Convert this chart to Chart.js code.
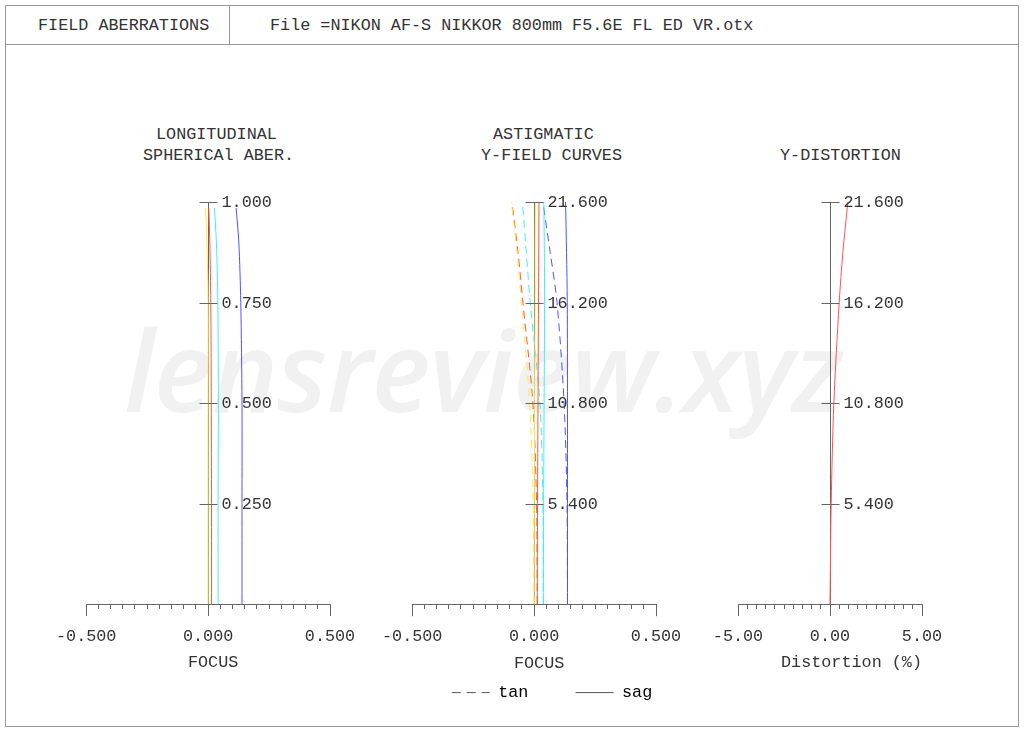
<!DOCTYPE html>
<html lang="en">
<head>
<meta charset="utf-8">
<title>Field aberrations</title>
<script src="https://cdn.jsdelivr.net/npm/chart.js@4"></script>
<style>
  body { margin: 0; background: #fff; width: 1024px; height: 731px; position: relative; overflow: hidden;
         font-family: 'Liberation Mono', 'Courier New', monospace; font-size: 16.8px; color: #333; }
  .marco { position: absolute; left: 5px; top: 5px; width: 1014px; height: 722px; border: 1px solid #999; box-sizing: border-box; }
  .cabecera { position: absolute; left: 5px; top: 5px; width: 1014px; height: 40px; border-bottom: 1px solid #999; box-sizing: border-box; }
  .divisor { position: absolute; left: 229px; top: 5px; width: 1px; height: 39px; background: #999; }
  .texto { position: absolute; white-space: pre; line-height: 20px; }
  .marca { position: absolute; left: 124px; top: 292px; font-family: 'Open Sans', sans-serif; font-style: italic; font-weight: 600;
           font-size: 112px; color: #f1f1f1; letter-spacing: -1px; white-space: nowrap; }
  canvas { position: absolute; }
</style>
</head>
<body>
<div class="marco"></div>
<div class="cabecera"></div>
<div class="divisor"></div>
<div class="texto" style="left:38px; top:16px">FIELD ABERRATIONS</div>
<div class="texto" style="left:270px; top:16px">File =NIKON AF-S NIKKOR 800mm F5.6E FL ED VR.otx</div>

<div class="marca">lensreview.xyz</div>

<div class="texto" style="left:156px; top:125px">LONGITUDINAL</div>
<div class="texto" style="left:143px; top:146px">SPHERICAl ABER.</div>
<div class="texto" style="left:493px; top:125px">ASTIGMATIC</div>
<div class="texto" style="left:481px; top:146px">Y-FIELD CURVES</div>
<div class="texto" style="left:780px; top:146px">Y-DISTORTION</div>

<canvas id="esferica" width="324" height="495" style="left:46px; top:182px"></canvas>
<canvas id="campo" width="320" height="529" style="left:372px; top:182px"></canvas>
<canvas id="distorsion" width="264" height="495" style="left:698px; top:182px"></canvas>

<script>
// Aberración esférica longitudinal: altura relativa de pupila -> foco
const alturaPupila = [0, 0.25, 0.5, 0.75, 0.9, 0.985];
const esfAzul      = [0.139, 0.139, 0.139, 0.134, 0.126, 0.115];
const esfCian      = [0.041, 0.041, 0.042, 0.040, 0.034, 0.026];
const esfRojo      = [0.014, 0.014, 0.013, 0.011, 0.007, 0.003];
const esfAmarillo  = [0.000, 0.000, 0.000, 0.000, -0.005, -0.011];

// Curvas de campo (tan / sag) y distorsión: altura de imagen
const alturaCampo  = [0, 5.4, 10.8, 16.2, 18.9, 21.6];
const tanAzul      = [0.137, 0.135, 0.123, 0.094, 0.066, 0.036];
const sagAzul      = [0.137, 0.137, 0.137, 0.136, 0.133, 0.129];
const tanCian      = [0.038, 0.036, 0.024, -0.016, -0.032, -0.048];
const sagCian      = [0.038, 0.039, 0.041, 0.043, 0.042, 0.040];
const tanRojo      = [0.013, 0.010, -0.005, -0.046, -0.066, -0.091];
const sagRojo      = [0.013, 0.014, 0.016, 0.018, 0.019, 0.020];
const tanAmarillo  = [0.000, -0.004, -0.018, -0.052, -0.070, -0.093];
const sagAmarillo  = [0.000, 0.001, 0.002, 0.004, 0.004, 0.005];
const distorsion   = [0, 0.065, 0.21, 0.50, 0.70, 0.97];

// Marcas de los ejes
const ticksPupila = [0.25, 0.5, 0.75, 1.0];
const ticksCampo  = [5.4, 10.8, 16.2, 21.6];
const limiteFoco = 0.5;
const limiteDistorsion = 5;

const colores = { azul: '#5252ff', cian: '#3ff0f0', rojo: '#ff5252', amarillo: '#f2f23a' };
const grisEje = '#666';
const rayas = [8, 5];
const fuente = "'Liberation Mono', 'Courier New', monospace";
const tamFuente = 16.8;

Chart.defaults.font.family = fuente;
Chart.defaults.font.size = tamFuente;
Chart.defaults.color = '#333';

// Convierte valores (x) y alturas (y) en puntos
function puntos(valores, alturas) {
    return valores.map((v, i) => ({ x: v, y: alturas[i] }));
}

function linea(valores, alturas, color, discontinua) {
    return {
        data: puntos(valores, alturas),
        showLine: true,
        borderColor: color,
        borderWidth: 1,
        borderDash: discontinua ? rayas : [],
        pointRadius: 0,
        tension: 0.3,
        fill: false
    };
}

// Eje horizontal con marcas cada 1/20 y etiquetas en extremos y centro
function ejeX(limite, decimales, titulo, alineacion) {
    return {
        type: 'linear',
        min: -limite,
        max: limite,
        afterFit: (eje) => { eje.height = 73; },
        ticks: {
            count: 21,
            autoSkip: false,
            maxRotation: 0,
            minRotation: 0,
            padding: 10,
            callback: (v, i) => {
                if (i % 10 !== 0) return '';
                return Math.abs(v) < 1e-9 ? (0).toFixed(decimales) : v.toFixed(decimales);
            }
        },
        grid: {
            drawOnChartArea: false,
            tickLength: 12,
            tickColor: grisEje,
            tickBorderDash: (c) => c.index % 10 === 0 ? [] : [4, 20] // marcas menores más cortas
        },
        border: { color: grisEje },
        title: { display: true, text: titulo, align: alineacion, padding: { top: 7, bottom: 4 } }
    };
}

// Eje vertical colocado en x = 0 (las etiquetas las pinta el plugin)
function ejeY(maximo, valores) {
    return {
        type: 'linear',
        min: 0,
        max: maximo,
        position: { x: 0 },
        afterBuildTicks: (eje) => { eje.ticks = valores.map(v => ({ value: v })); },
        grid: { drawOnChartArea: false, drawTicks: false },
        border: { color: grisEje },
        ticks: { display: false, callback: (v) => v.toFixed(3) }
    };
}

// Marcas cruzadas y etiquetas a la derecha del eje vertical
const cruces = {
    id: 'cruces',
    afterDraw(chart) {
        const { ctx, scales: { x, y } } = chart;
        const x0 = Math.round(x.getPixelForValue(0)) + 0.5;
        ctx.save();
        ctx.strokeStyle = grisEje;
        ctx.lineWidth = 1;
        ctx.font = tamFuente + 'px ' + fuente;
        ctx.fillStyle = '#333';
        ctx.textAlign = 'left';
        ctx.textBaseline = 'middle';
        ctx.beginPath();
        y.ticks.forEach(t => {
            const py = Math.round(y.getPixelForValue(t.value)) + 0.5;
            ctx.moveTo(x0 - 9, py);
            ctx.lineTo(x0 + 9, py);
            ctx.fillText(t.label, x0 + 13, py);
        });
        ctx.stroke();
        ctx.restore();
    }
};

function opcionesBase(escalas) {
    return {
        responsive: false,
        animation: false,
        layout: { padding: { left: 40, right: 40, top: 20, bottom: 0 } },
        scales: escalas,
        plugins: { legend: { display: false }, tooltip: { enabled: false } }
    };
}

// Panel 1: aberración esférica longitudinal
new Chart(document.getElementById('esferica'), {
    type: 'scatter',
    data: {
        datasets: [
            linea(esfAmarillo, alturaPupila, colores.amarillo, false),
            linea(esfRojo, alturaPupila, colores.rojo, false),
            linea(esfCian, alturaPupila, colores.cian, false),
            linea(esfAzul, alturaPupila, colores.azul, false)
        ]
    },
    options: opcionesBase({
        x: ejeX(limiteFoco, 3, ' FOCUS', 'center'),
        y: ejeY(1, ticksPupila)
    }),
    plugins: [cruces]
});

// Panel 2: curvas de campo astigmáticas
const opcionesCampo = opcionesBase({
    x: ejeX(limiteFoco, 3, ' FOCUS', 'center'),
    y: ejeY(21.6, ticksCampo),
    relleno: {
        position: 'right',
        afterFit: (eje) => { eje.width = 36; }, // desplaza la leyenda hacia la derecha
        ticks: { display: false },
        grid: { display: false },
        border: { display: false }
    }
});
opcionesCampo.layout.padding.right = 0;
opcionesCampo.plugins.legend = {
    display: true,
    position: 'bottom',
    labels: {
        usePointStyle: true,
        pointStyleWidth: 38,
        padding: 7,
        color: '#333',
        generateLabels: () => [
            { text: 'tan    ', strokeStyle: '#555', fillStyle: '#555', lineWidth: 1, lineDash: [9, 6], pointStyle: 'line', hidden: false },
            { text: 'sag', strokeStyle: '#555', fillStyle: '#555', lineWidth: 1, lineDash: [], pointStyle: 'line', hidden: false }
        ]
    }
};

new Chart(document.getElementById('campo'), {
    type: 'scatter',
    data: {
        datasets: [
            linea(tanAmarillo, alturaCampo, colores.amarillo, true),
            linea(sagAmarillo, alturaCampo, colores.amarillo, false),
            linea(tanRojo, alturaCampo, colores.rojo, true),
            linea(sagRojo, alturaCampo, colores.rojo, false),
            linea(tanCian, alturaCampo, colores.cian, true),
            linea(sagCian, alturaCampo, colores.cian, false),
            linea(tanAzul, alturaCampo, colores.azul, true),
            linea(sagAzul, alturaCampo, colores.azul, false)
        ]
    },
    options: opcionesCampo,
    plugins: [cruces]
});

// Panel 3: distorsión
new Chart(document.getElementById('distorsion'), {
    type: 'scatter',
    data: {
        datasets: [linea(distorsion, alturaCampo, colores.rojo, false)]
    },
    options: opcionesBase({
        x: ejeX(limiteDistorsion, 2, 'Distortion (%)', 'end'),
        y: ejeY(21.6, ticksCampo)
    }),
    plugins: [cruces]
});
</script>
</body>
</html>
